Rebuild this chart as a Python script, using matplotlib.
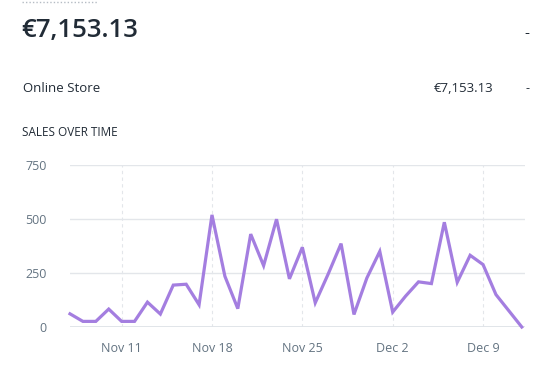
import matplotlib
matplotlib.use("Agg")
import matplotlib.pyplot as plt
import pandas as pd

# daily sales, Nov 7 .. Dec 12
start_day = "2018-11-07"
sales = [61, 26, 26, 83, 26, 26, 115, 60, 194, 198, 103, 519, 235, 85,
         430, 284, 499, 223, 369, 112, 245, 386, 58, 227, 350, 69, 143,
         209, 201, 485, 207, 332, 289, 150, 75, 0]
tick_days = ["2018-11-11", "2018-11-18", "2018-11-25", "2018-12-02", "2018-12-09"]
tick_labels = ["Nov 11", "Nov 18", "Nov 25", "Dec 2", "Dec 9"]
y_ticks = [0, 250, 500, 750]

total_text = "€7,153.13"
channel = "Online Store"

days = pd.date_range(start_day, periods=len(sales), freq="D")

plt.rcParams["font.family"] = ["Open Sans", "DejaVu Sans"]

fig = plt.figure(figsize=(5.5, 3.7), dpi=100)
fig.patch.set_facecolor("white")

dark = "#212b36"
grey = "#637381"

# header texts
fig.add_artist(plt.Line2D([22 / 550, 97 / 550], [1 - 1.5 / 370, 1 - 1.5 / 370],
                          color="#b5bcc4", lw=1, linestyle=(0, (1, 1.5))))
fig.text(21 / 550, 1 - 31 / 370, total_text, fontsize=18.5, color=dark,
         va="center", ha="left", fontweight="semibold")
fig.text(527 / 550, 1 - 33 / 370, "-", fontsize=11, color=dark, va="center", ha="center")
fig.text(23 / 550, 1 - 89 / 370, channel, fontsize=9.5, color=dark, va="center", ha="left")
fig.text(493 / 550, 1 - 89 / 370, total_text, fontsize=9.5, color=dark, va="center", ha="right")
fig.text(527 / 550, 1 - 89 / 370, "-", fontsize=9, color=dark, va="center", ha="center")
fig.text(22 / 550, 1 - 132 / 370, "SALES OVER TIME", fontsize=8.5, color=dark,
         va="center", ha="left")

ax = fig.add_axes([70 / 550, 1 - 327 / 370, (525 - 70) / 550, (327 - 165) / 370])
ax.plot(days, sales, color="#a47ee0", lw=2.3, solid_joinstyle="miter", zorder=3, clip_on=False)

ax.set_ylim(0, 750)
ax.set_yticks(y_ticks)
ax.set_xlim(days[0], days[-1] + pd.Timedelta(hours=6))
ax.set_xticks(pd.to_datetime(tick_days))
ax.set_xticklabels(tick_labels)

for s in ax.spines.values():
    s.set_visible(False)
ax.tick_params(length=0, colors=grey, labelsize=9)
ax.tick_params(axis="y", pad=17)
ax.tick_params(axis="x", pad=11)
for lbl in ax.get_yticklabels():
    lbl.set_horizontalalignment("right")

ax.grid(axis="y", color="#e3e6ea", lw=1)
ax.grid(axis="x", color="#e3e6ea", lw=0.8, linestyle=(0, (3, 3)))
ax.axhline(0, color="#dfe3e8", lw=2, zorder=2)
ax.set_axisbelow(True)

fig.savefig("out.png", dpi=100, facecolor="white")
